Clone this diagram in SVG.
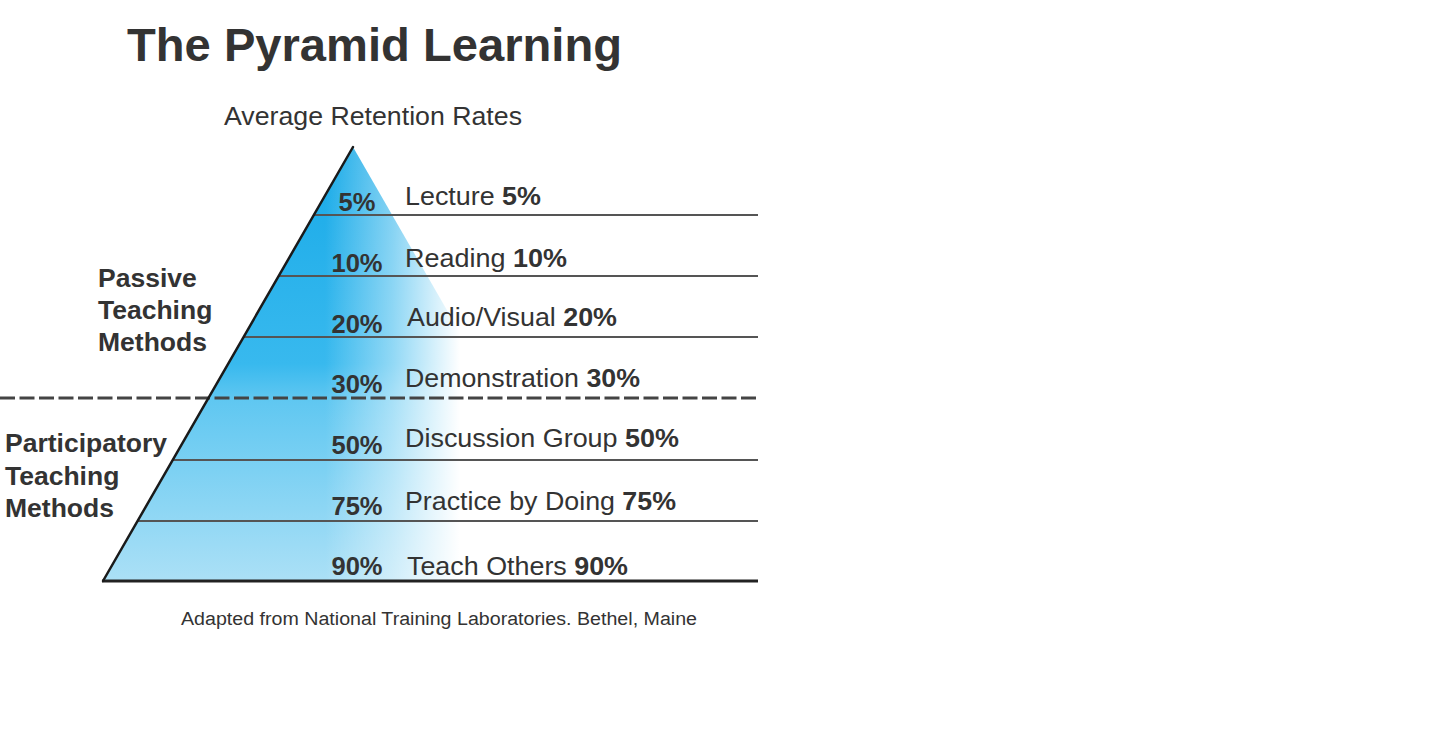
<svg xmlns="http://www.w3.org/2000/svg" width="1447" height="735" viewBox="0 0 1447 735">
  <defs>
    <linearGradient id="vfill" gradientUnits="userSpaceOnUse" x1="0" y1="147" x2="0" y2="581">
      <stop offset="0" stop-color="#18aae8"/>
      <stop offset="0.5" stop-color="#38b9ee"/>
      <stop offset="0.58" stop-color="#5fc7f1"/>
      <stop offset="1" stop-color="#abe0f6"/>
    </linearGradient>
    <linearGradient id="hfade" gradientUnits="userSpaceOnUse" x1="325" y1="0" x2="460" y2="0">
      <stop offset="0" stop-color="#ffffff" stop-opacity="0"/>
      <stop offset="0.5" stop-color="#ffffff" stop-opacity="0.45"/>
      <stop offset="1" stop-color="#ffffff" stop-opacity="1"/>
    </linearGradient>
    <style>
      .t { font-family: "Liberation Sans", Arial, sans-serif; fill: #333333; }
      .b { font-weight: bold; }
      .lbl { font-size: 25.5px; }
      .pct { font-size: 25.5px; font-weight: bold; text-anchor: middle; }
      .grp { font-size: 26.5px; font-weight: bold; }
      .rule { stroke: #555555; stroke-width: 2; fill: none; }
    </style>
  </defs>

  <rect x="0" y="0" width="1447" height="735" fill="#ffffff"/>

  <g id="title">
    <text class="t b" x="127" y="61" font-size="47" textLength="495" lengthAdjust="spacingAndGlyphs">The Pyramid Learning</text>
    <text class="t" x="224" y="125" font-size="26" textLength="298" lengthAdjust="spacingAndGlyphs">Average Retention Rates</text>
  </g>

  <g id="pyramid">
    <polygon points="353,147 103,581 476,581 476,360.6" fill="url(#vfill)"/>
    <rect x="100" y="140" width="380" height="445" fill="url(#hfade)"/>
  </g>

  <g id="connectors">
    <line class="rule" x1="314" y1="215" x2="758" y2="215"/>
    <line class="rule" x1="279" y1="276" x2="758" y2="276"/>
    <line class="rule" x1="244" y1="337" x2="758" y2="337"/>
    <line x1="0" y1="398" x2="758" y2="398" stroke="#444444" stroke-width="3" stroke-dasharray="15 4.5"/>
    <line class="rule" x1="173" y1="460" x2="758" y2="460"/>
    <line class="rule" x1="138" y1="521" x2="758" y2="521"/>
    <line x1="102" y1="581" x2="758" y2="581" stroke="#222222" stroke-width="3"/>
    <line x1="353" y1="147" x2="103" y2="581" stroke="#1a1a1a" stroke-width="2.5" stroke-linecap="round"/>
  </g>

  <g id="level-lecture">
    <text class="t pct" x="357" y="211">5%</text>
    <text class="t lbl" x="405" y="205" textLength="136" lengthAdjust="spacingAndGlyphs">Lecture <tspan class="b">5%</tspan></text>
  </g>
  <g id="level-reading">
    <text class="t pct" x="357" y="272">10%</text>
    <text class="t lbl" x="405" y="267" textLength="162" lengthAdjust="spacingAndGlyphs">Reading <tspan class="b">10%</tspan></text>
  </g>
  <g id="level-audiovisual">
    <text class="t pct" x="357" y="333">20%</text>
    <text class="t lbl" x="407" y="326" textLength="210" lengthAdjust="spacingAndGlyphs">Audio/Visual <tspan class="b">20%</tspan></text>
  </g>
  <g id="level-demonstration">
    <text class="t pct" x="357" y="393">30%</text>
    <text class="t lbl" x="405" y="387" textLength="235" lengthAdjust="spacingAndGlyphs">Demonstration <tspan class="b">30%</tspan></text>
  </g>
  <g id="level-discussion">
    <text class="t pct" x="357" y="454">50%</text>
    <text class="t lbl" x="405" y="447" textLength="274" lengthAdjust="spacingAndGlyphs">Discussion Group <tspan class="b">50%</tspan></text>
  </g>
  <g id="level-practice">
    <text class="t pct" x="357" y="515">75%</text>
    <text class="t lbl" x="405" y="510" textLength="271" lengthAdjust="spacingAndGlyphs">Practice by Doing <tspan class="b">75%</tspan></text>
  </g>
  <g id="level-teach">
    <text class="t pct" x="357" y="575">90%</text>
    <text class="t lbl" x="407" y="575" textLength="221" lengthAdjust="spacingAndGlyphs">Teach Others <tspan class="b">90%</tspan></text>
  </g>

  <g id="passive">
    <text class="t grp" x="98" y="287">Passive</text>
    <text class="t grp" x="98" y="319">Teaching</text>
    <text class="t grp" x="98" y="351">Methods</text>
  </g>
  <g id="participatory">
    <text class="t grp" x="5" y="452">Participatory</text>
    <text class="t grp" x="5" y="485">Teaching</text>
    <text class="t grp" x="5" y="517">Methods</text>
  </g>

  <g id="footer">
    <text class="t" x="181" y="625" font-size="18" textLength="516" lengthAdjust="spacingAndGlyphs" fill="#555555">Adapted from National Training Laboratories. Bethel, Maine</text>
  </g>
</svg>
